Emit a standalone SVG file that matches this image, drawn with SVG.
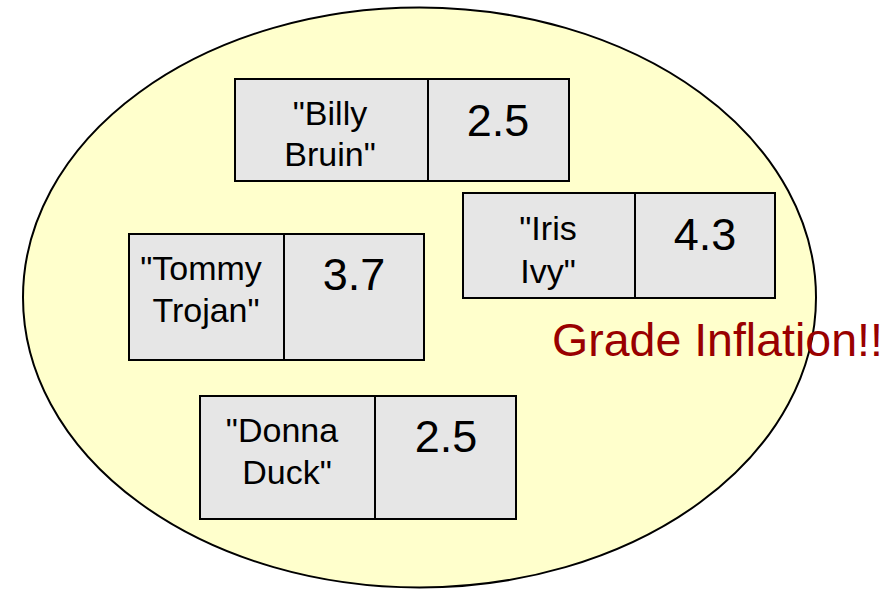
<svg xmlns="http://www.w3.org/2000/svg" width="886" height="589" viewBox="0 0 886 589">
<style>
.cell{fill:#e6e6e6;stroke:#000;stroke-width:2}
.nm{font-family:"Liberation Sans",Arial,sans-serif;font-size:34px;fill:#000;text-anchor:middle}
.num{font-family:"Liberation Sans",Arial,sans-serif;font-size:45px;fill:#000;text-anchor:middle}
.big{font-family:"Liberation Sans",Arial,sans-serif;font-size:46.5px;fill:#990000}
</style>
<rect width="886" height="589" fill="#fff"/>
<g id="set">
<ellipse cx="419.5" cy="297.5" rx="396.5" ry="290" fill="#ffffcc" stroke="#000" stroke-width="2"/>
</g>
<g id="billy">
<rect class="cell" x="235" y="79" width="193" height="102"/>
<rect class="cell" x="428" y="79" width="141" height="102"/>
<text class="nm" x="330" y="125">"Billy</text>
<text class="nm" x="330" y="166">Bruin"</text>
<text class="num" x="498" y="136">2.5</text>
</g>
<g id="iris">
<rect class="cell" x="463" y="193" width="172" height="105"/>
<rect class="cell" x="635" y="193" width="140" height="105"/>
<text class="nm" x="548" y="240">"Iris</text>
<text class="nm" x="548" y="283">Ivy"</text>
<text class="num" x="705" y="250">4.3</text>
</g>
<g id="tommy">
<rect class="cell" x="129" y="234" width="155" height="126"/>
<rect class="cell" x="284" y="234" width="140" height="126"/>
<text class="nm" x="201" y="280">"Tommy</text>
<text class="nm" x="206" y="322">Trojan"</text>
<text class="num" x="354" y="290">3.7</text>
</g>
<g id="donna">
<rect class="cell" x="200" y="396" width="175" height="123"/>
<rect class="cell" x="375" y="396" width="141" height="123"/>
<text class="nm" x="282" y="442">"Donna</text>
<text class="nm" x="287" y="484">Duck"</text>
<text class="num" x="446" y="452">2.5</text>
</g>
<g id="connectors"></g>
<text class="big" x="552" y="356">Grade Inflation!!</text>
</svg>
